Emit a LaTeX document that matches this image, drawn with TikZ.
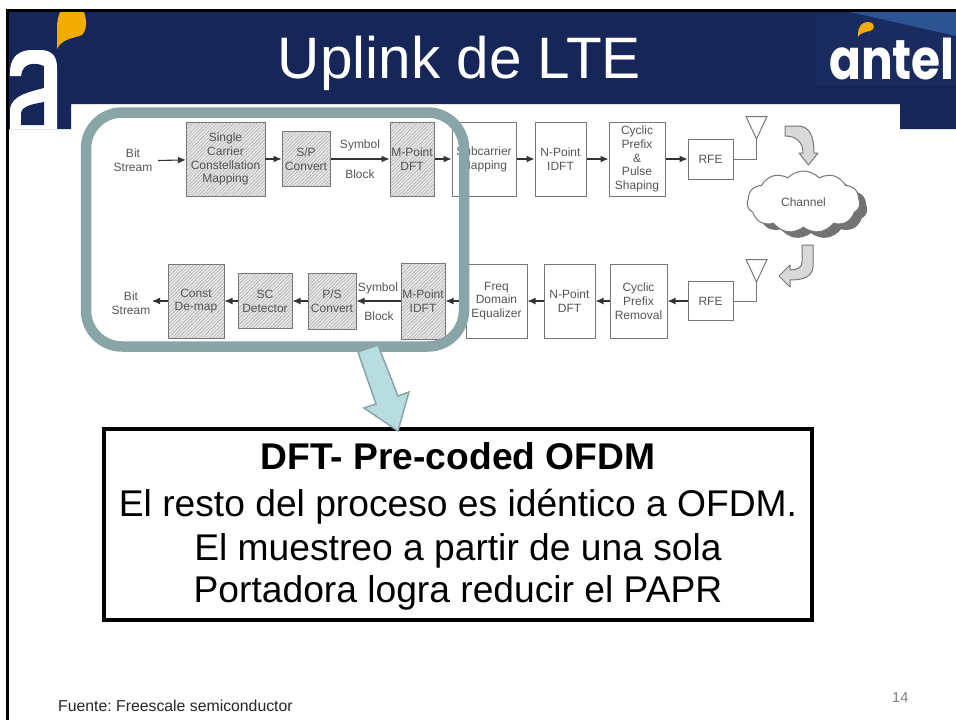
\documentclass[tikz,border=0pt]{standalone}
\usepackage{fontspec}
\setmainfont{Liberation Sans}
\newfontfamily\logofont{Poppins}
\frenchspacing
\usetikzlibrary{arrows.meta,patterns.meta,shapes.symbols}
\definecolor{navy}{HTML}{172659}
\definecolor{navylight}{HTML}{1A2B60}
\definecolor{wedge}{HTML}{2C5392}
\definecolor{orange}{HTML}{F2AC00}
\definecolor{teal1}{HTML}{8AA5A8}
\definecolor{teal2}{HTML}{B7DDE0}
\definecolor{ink}{HTML}{555555}
\definecolor{edge}{HTML}{777777}
\tikzset{
  blk/.style={draw=edge,line width=1pt,fill=white,inner sep=0pt,align=center,text=ink,
     font=\fontsize{12}{13.8}\selectfont},
  hatched/.style={blk,preaction={fill=black!10},pattern={Lines[angle=45,distance=2.4pt,line width=.3pt]},pattern color=black!40},
  lbl/.style={inner sep=0pt,align=center,text=ink,font=\fontsize{12}{13.8}\selectfont},
  flow/.style={draw=black!80,line width=1.1pt,-{Latex[length=8pt,width=7pt]}},
  wire/.style={draw=edge,line width=1pt},
  bendarrow/.style={draw=edge,line width=1pt,fill=black!15,line join=round},
  puffy/.style={cloud,cloud puffs=11,cloud puff arc=95,aspect=2,inner sep=0pt,minimum width=113pt,minimum height=62pt},
}
\begin{document}
\begin{tikzpicture}[x=1pt,y=-1pt]
\useasboundingbox (0,0) rectangle (956,720);
\fill[white] (0,0) rectangle (956,720);
% header
\fill[navy] (9,12) -- (956,12) -- (956,129) -- (900,129) -- (900,104) -- (71,104) -- (71,129) -- (9,129) -- cycle;
\fill[navylight] (816,12) rectangle (956,85);
\fill[wedge] (850,12) -- (956,12) -- (956,36) -- cycle;
% frame
\draw[black,line width=3pt] (7.5,720) -- (7.5,10.5) -- (956,10.5);
% left logo
\fill[white] (10,129) -- (10,110) .. controls (11,95) and (30,92) .. (44,88) -- (44,66) .. controls (36,62) and (22,62) .. (21,76) -- (10,76) .. controls (9,60) and (16,51) .. (30,50) -- (42,50) .. controls (52,51) and (57,56) .. (57,68) -- (57,129) -- cycle;
\fill[navy] (21,125) -- (21,113) .. controls (22,106) and (33,104) .. (44,102) -- (44,125) -- cycle;
\fill[orange] (60,12) -- (84,12) .. controls (87,20) and (87,30) .. (82,35) .. controls (76,38) and (62,38) .. (57,49) -- (57,28) .. controls (57,22) and (58,17) .. (60,12) -- cycle;
% right logo
\node[anchor=base west,inner sep=0pt,text=white,xscale=.84,transform shape,font=\logofont\bfseries\fontsize{56}{56}\selectfont] (antel) at (829,79) {antel};
\fill[orange] (858,35) .. controls (858,26) and (862,22) .. (868,22) -- (872,23) .. controls (875,26) and (874,30) .. (870,31) .. controls (865,32) and (860,33) .. (858,37) -- cycle;
\node[anchor=base,text=white,inner sep=0pt,font=\fontsize{58.5}{58}\selectfont] (title) at (459.5,78.5) {Uplink de LTE};
% top row
\node[lbl] (bit1) at (133,160.5) {Bit\\Stream};
\node[hatched,minimum width=79pt,minimum height=74pt] (map) at (225.5,159) {Single\\Carrier\\Constellation\\Mapping};
\node[hatched,minimum width=48pt,minimum height=55pt] (sp) at (306,159) {S/P\\Convert};
\node[hatched,minimum width=44pt,minimum height=74pt] (mdft) at (412,159) {M-Point\\DFT};
\node[blk,minimum width=64pt,minimum height=74pt] (sub) at (484,159) {Subcarrier\\Mapping};
\node[blk,minimum width=51pt,minimum height=74pt] (idft) at (560.5,159) {N-Point\\IDFT};
\node[blk,minimum width=56pt,minimum height=74pt] (cyc1) at (637,159) {Cyclic\\Prefix\\\&\\Pulse\\Shaping};
\node[blk,minimum width=45pt,minimum height=40pt] (rfe1) at (710.5,159) {RFE};
\node[lbl] (sym1) at (360,145.5) {Symbol};
\node[lbl] (blk1) at (360,174) {Block};
\coordinate (ant1) at (756.5,139);
\draw[wire,fill=white] (746,116.5) -- (767,116.5) -- (ant1) -- cycle;
\draw[wire] (rfe1.east) -| (ant1);
\draw[flow] (bit1.east -| 158,159) -- (map);
\draw[flow] (map) -- (sp);
\draw[flow] (sp) -- (mdft);
\draw[flow] (mdft) -- (sub);
\draw[flow] (sub) -- (idft);
\draw[flow] (idft) -- (cyc1);
\draw[flow] (cyc1) -- (rfe1);
% bottom row
\node[lbl] (bit2) at (131,303) {Bit\\Stream};
\node[hatched,minimum width=56pt,minimum height=74pt] (demap) at (196,301) {Const\\De-map};
\node[hatched,minimum width=54pt,minimum height=55pt] (sc) at (265,301) {SC\\Detector};
\node[hatched,minimum width=48pt,minimum height=56pt] (ps) at (332,301) {P/S\\Convert};
\node[hatched,minimum width=44pt,minimum height=76pt] (midft) at (423,301) {M-Point\\IDFT};
\node[blk,minimum width=61pt,minimum height=74pt] (eq) at (496.5,301) {Freq\\Domain\\Equalizer};
\node[blk,minimum width=51pt,minimum height=74pt] (dft) at (569.5,301) {N-Point\\DFT};
\node[blk,minimum width=57pt,minimum height=74pt] (cyc2) at (638.5,301) {Cyclic\\Prefix\\Removal};
\node[blk,minimum width=45pt,minimum height=39pt] (rfe2) at (710.5,301) {RFE};
\node[lbl] (sym2) at (378,288) {Symbol};
\node[lbl] (blk2) at (379,316) {Block};
\coordinate (ant2) at (756.5,282);
\draw[wire,fill=white] (746,259.5) -- (767,259.5) -- (ant2) -- cycle;
\draw[wire] (rfe2.east) -| (ant2);
\draw[flow] (rfe2) -- (cyc2);
\draw[flow] (cyc2) -- (dft);
\draw[flow] (dft) -- (eq);
\draw[flow] (eq) -- (midft);
\draw[flow] (midft) -- (ps);
\draw[flow] (ps) -- (sc);
\draw[flow] (sc) -- (demap);
\coordinate (bit2end) at (152,301);
\draw[flow] (demap) -- (bit2end);
% channel
\node[puffy,fill=black!55] (shade) at (811,208) {};
\node[puffy,draw=edge,line width=1pt,fill=white,text=ink,font=\fontsize{12}{13.8}\selectfont] (channel) at (803.5,202) {Channel};
\draw[bendarrow] (785,126) -- (798,126) .. controls (810,126) and (814,137) .. (814,153) -- (818,153) -- (808.5,165) -- (799,153) -- (803,153) .. controls (803,143) and (797,136) .. (785,136) -- cycle;
\draw[bendarrow] (802,245) -- (813,245) -- (813,267) .. controls (812,277) and (803,280) .. (790,280) -- (790,287) -- (779,276) -- (790,265) -- (790,270) .. controls (798,270) and (802,267) .. (802,262) -- cycle;
% highlight
\draw[teal1,line width=10.5pt,rounded corners=36pt] (86,112.5) rectangle (464,346.5);
% message box
\node[draw=black,line width=3.5pt,fill=white,minimum width=708pt,minimum height=191pt,inner sep=0pt,align=center,font=\fontsize{37.2}{45}\selectfont] (msg) at (458,524.5) {\rule{0pt}{31.5pt}\textbf{DFT- Pre-coded OFDM}\\[2pt]El resto del proceso es idéntico a OFDM.\\[-1pt]El muestreo a partir de una sola\\[-3pt]Portadora logra reducir el PAPR};
\draw[teal1,line width=1.5pt,fill=teal2,line join=miter] (358,352) -- (378,345) -- (398,396) -- (409,392) -- (398,431) -- (364,408) -- (376,404) -- cycle;
% footer
\node[anchor=base west,inner sep=0pt,font=\fontsize{15.8}{17}\selectfont,text=black!85] (src) at (58,711) {Fuente: Freescale semiconductor};
\node[anchor=base west,inner sep=0pt,font=\fontsize{14.5}{16}\selectfont,text=black!50] (page) at (892,702) {14};
\end{tikzpicture}
\end{document}
